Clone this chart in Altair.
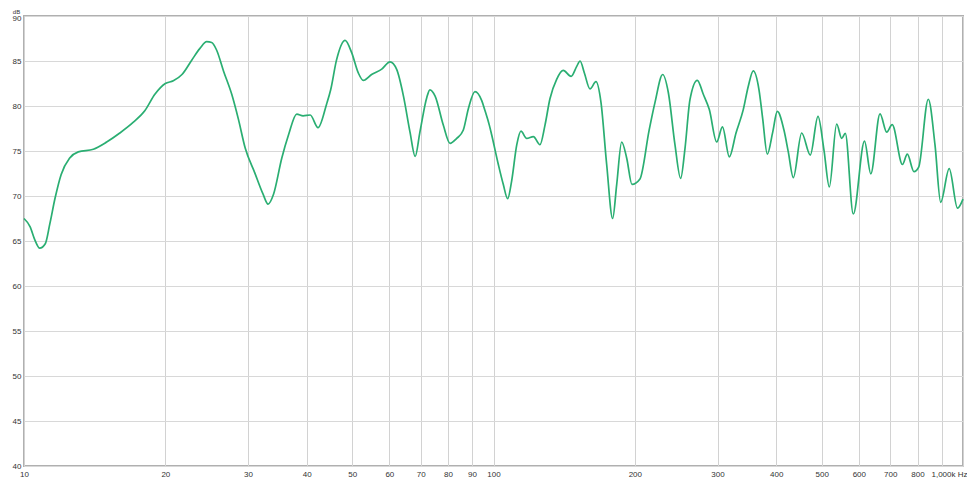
import altair as alt
import pandas as pd

# Frequency response (Hz, dB)
freq_hz = [10.0, 10.3, 10.55, 10.8, 11.1, 11.35, 11.65, 12.0, 12.5, 13.05,
           14.05, 15.0, 16.0, 17.1, 18.1, 19.0, 20.0, 20.8, 21.7, 22.8,
           23.7, 24.5, 25.1, 25.7, 26.6, 27.7, 28.6, 29.6, 31.0, 32.3,
           33.1, 34.0, 35.4, 36.6, 38.1, 39.3, 40.7, 42.3, 44.1, 45.0,
           46.3, 48.3, 49.9, 51.5, 52.8, 55.0, 57.8, 60.2, 62.2, 64.3,
           66.4, 68.1, 69.7, 72.1, 73.2, 75.1, 78.2, 80.8, 83.5, 86.2,
           88.4, 91.3, 94.4, 95.9, 98.0, 99.1, 102.4, 104.9, 107.2, 109.3,
           112.1, 114.4, 117.7, 121.6, 125.6, 128.7, 131.9, 136.3, 140.8, 146.3,
           150.4, 152.9, 156.1, 160.5, 165.3, 169.4, 174.2, 179.4, 183.0, 187.5,
           192.2, 197.2, 205.1, 214.5, 220.8, 229.3, 235.7, 243.5, 250.4, 255.8,
           262.1, 271.7, 279.8, 288.2, 298.8, 307.4, 317.9, 328.5, 340.4, 348.9,
           357.5, 367.7, 374.4, 383.0, 393.3, 402.2, 415.7, 424.5, 435.1, 453.3,
           472.9, 491.1, 505.7, 519.1, 538.2, 551.6, 561.4, 583.9, 616.9, 636.2,
           665.6, 687.9, 706.6, 743.2, 760.9, 786.4, 804.7, 843.5, 871.7, 896.4,
           934.6, 973.4, 1000.0]
level_db = [67.5, 66.6, 65.1, 64.2, 64.7, 66.9, 69.8, 72.4, 74.2, 74.9,
            75.2, 76.0, 77.0, 78.2, 79.5, 81.3, 82.5, 82.8, 83.5, 85.15,
            86.4, 87.15, 87.05, 86.25, 83.9, 81.3, 78.6, 75.3, 72.6, 70.2,
            69.1, 70.2, 74.2, 76.8, 79.1, 78.9, 79.0, 77.6, 80.2, 81.8,
            85.1, 87.3, 85.9, 83.7, 82.85, 83.5, 84.1, 84.9, 84.06, 81.1,
            77.1, 74.4, 77.1, 80.95, 81.8, 81.1, 77.85, 75.85, 76.4, 77.3,
            79.7, 81.6, 80.6, 79.5, 77.85, 76.8, 73.5, 71.3, 69.7, 71.65,
            75.7, 77.2, 76.4, 76.6, 75.7, 77.85, 80.8, 82.96, 83.95, 83.3,
            84.4, 85.0, 83.7, 81.9, 82.7, 80.4, 73.5, 67.5, 71.3, 76.0,
            74.2, 71.3, 71.9, 77.3, 80.4, 83.5, 81.5, 75.7, 71.95, 75.3,
            80.7, 82.85, 81.3, 79.6, 76.0, 77.67, 74.35, 77.0, 79.6, 82.2,
            83.9, 81.8, 78.6, 74.65, 77.1, 79.4, 77.3, 74.9, 72.05, 77.0,
            74.55, 78.85, 75.1, 71.0, 78.0, 76.4, 76.95, 68.0, 76.1, 72.46,
            79.13, 77.1, 77.93, 73.5, 74.65, 72.7, 73.2, 80.75, 75.67, 69.3,
            73.04, 68.65, 69.65]

x_ticks = [10, 20, 30, 40, 50, 60, 70, 80, 90, 100,
           200, 300, 400, 500, 600, 700, 800, 900, 1000]
x_labels = ["10", "20", "30", "40", "50", "60", "70", "80", "90", "100",
            "200", "300", "400", "500", "600", "700", "800", "", "1,000k Hz"]
y_ticks = [40, 45, 50, 55, 60, 65, 70, 75, 80, 85, 90]

df = pd.DataFrame({"f": freq_hz, "db": level_db})

label_map = "{" + ", ".join(f"'{v}': '{l}'" for v, l in zip(x_ticks, x_labels)) + "}"
x_label_expr = f"{label_map}[''+datum.value]"

font = "Liberation Sans"

line = alt.Chart(df).mark_line(
    color="#2aae72", strokeWidth=1.7, interpolate="monotone"
).encode(
    x=alt.X("f:Q",
            scale=alt.Scale(type="log", domain=[10, 1000], nice=False),
            axis=alt.Axis(values=x_ticks, labelExpr=x_label_expr, title=None,
                          grid=True, gridColor="#d2d2d2", gridWidth=1,
                          ticks=False, domain=False, labelPadding=4,
                          labelFont=font, labelFontSize=8, labelColor="#333",
                          labelFlush=False, labelOverlap=False,
                          labelAlign=alt.ExprRef("datum.value >= 1000 ? 'right' : 'center'"),
                          labelOffset=alt.ExprRef("datum.value >= 1000 ? 4 : 0"))),
    y=alt.Y("db:Q",
            scale=alt.Scale(domain=[40, 90], nice=False),
            axis=alt.Axis(values=y_ticks, title="dB", titleAngle=0,
                          titleX=-8, titleY=-8, titleAlign="center",
                          titleBaseline="top", titleFont=font, titleFontSize=6,
                          titleFontWeight="normal", titleColor="#333",
                          grid=True, gridColor="#d8d8d8", gridWidth=1.2,
                          ticks=False, domain=False, labelPadding=3,
                          labelFont=font, labelFontSize=8, labelColor="#333",
                          labelFlush=False, labelOverlap=False,
                          labelOffset=alt.ExprRef("datum.value >= 90 ? 2 : 0"))),
).properties(
    width=939, height=450,
    autosize=alt.AutoSizeParams(type="none"),
    padding={"left": 16, "top": 8, "right": 4, "bottom": 12},
)

chart = line.configure(background="white").configure_view(
    stroke="#b0b0b0", strokeWidth=2
)
chart.save("out.html", embed_options={"renderer": "svg", "actions": False})
